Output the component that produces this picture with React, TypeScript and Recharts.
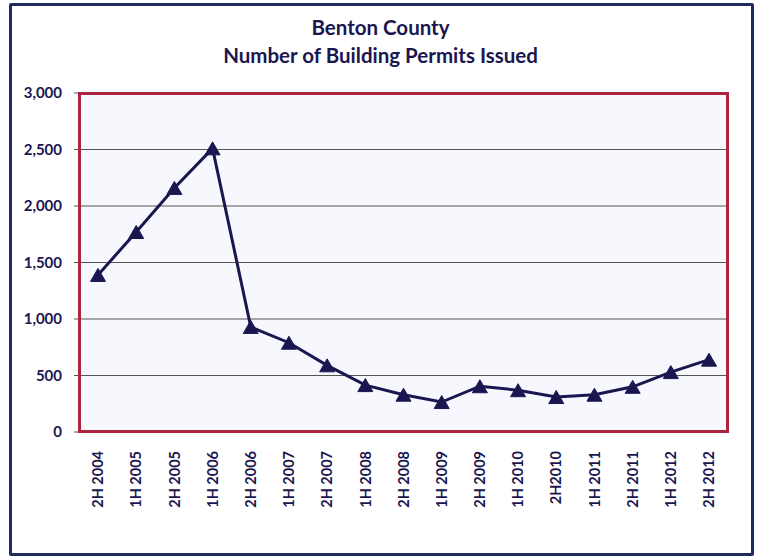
import React from 'react';
import { LineChart, Line, XAxis, YAxis, CartesianGrid } from 'recharts';

const periods = [
  '2H 2004', '1H 2005', '2H 2005', '1H 2006', '2H 2006', '1H 2007', '2H 2007', '1H 2008',
  '2H 2008', '1H 2009', '2H 2009', '1H 2010', '2H2010', '1H 2011', '2H 2011', '1H 2012', '2H 2012',
];
const permits = [1390, 1770, 2160, 2510, 930, 790, 590, 415, 330, 265, 405, 370, 310, 330, 400, 530, 640];
const yTicks = [0, 500, 1000, 1500, 2000, 2500, 3000];

const NAVY = '#1b1650';
const FONT = 'Lato, "Open Sans", sans-serif';

const data = periods.map((period, i) => ({ period, permits: permits[i] }));

// triangle marker centred on the point
const Triangle = (props: any) => {
  const { cx, cy } = props;
  if (cx == null || cy == null) return null;
  const w = 15;
  const h = 13;
  return (
    <polygon
      key={`tri-${props.index}`}
      points={`${cx},${cy - h / 2} ${cx + w / 2},${cy + h / 2} ${cx - w / 2},${cy + h / 2}`}
      fill={NAVY}
      stroke={NAVY}
      strokeWidth={1}
      strokeLinejoin="round"
    />
  );
};

const XTick = (props: any) => {
  const { x, y, payload } = props;
  return (
    <text
      x={0}
      y={0}
      transform={`translate(${x},${y + 11}) rotate(-90)`}
      textAnchor="end"
      dy="0.36em"
      fill={NAVY}
      fontFamily={FONT}
      fontWeight={700}
      fontSize={14.5}
    >
      {payload.value}
    </text>
  );
};

export default function App() {
  return (
    <div style={{ position: 'absolute', left: 0, top: 0, width: 761, height: 556, background: '#fff', overflow: 'hidden' }}>
      {/* outer frame */}
      <div
        style={{
          position: 'absolute', left: 9, top: 3, width: 745, height: 553,
          boxSizing: 'border-box', border: '3px solid #1f2a5e', borderRadius: 2,
        }}
      />
      <div
        style={{
          position: 'absolute', left: 0, top: 13, width: 761, textAlign: 'center',
          fontFamily: FONT, fontWeight: 700, fontSize: 20.5, lineHeight: '28px', color: NAVY,
        }}
      >
        <div>Benton County</div>
        <div>Number of Building Permits Issued</div>
      </div>
      <div style={{ position: 'absolute', left: 0, top: 0 }}>
        <LineChart width={761} height={556} data={data} margin={{ top: 93, right: 33, bottom: 0, left: 0 }}>
          <CartesianGrid vertical={false} stroke="#555" strokeWidth={1} fill="#f7f8fd" fillOpacity={1} />
          <XAxis
            dataKey="period"
            interval={0}
            height={124}
            padding={{ left: 19, right: 19 }}
            axisLine={false}
            tickLine={false}
            tick={<XTick />}
          />
          <YAxis
            width={79}
            domain={[0, 3000]}
            ticks={yTicks}
            interval={0}
            axisLine={false}
            tickSize={5}
            tickMargin={12}
            tickLine={{ stroke: '#555' }}
            tickFormatter={(v: number) => v.toLocaleString('en-US')}
            tick={{ fill: NAVY, fontFamily: FONT, fontWeight: 700, fontSize: 15 }}
          />
          <Line
            type="linear"
            dataKey="permits"
            stroke={NAVY}
            strokeWidth={3}
            dot={<Triangle />}
            activeDot={false}
            isAnimationActive={false}
          />
        </LineChart>
      </div>
      {/* plot border */}
      <div
        style={{
          position: 'absolute', left: 78, top: 92, width: 651, height: 341,
          boxSizing: 'border-box', border: '3px solid #ad2440', pointerEvents: 'none',
        }}
      />
    </div>
  );
}
